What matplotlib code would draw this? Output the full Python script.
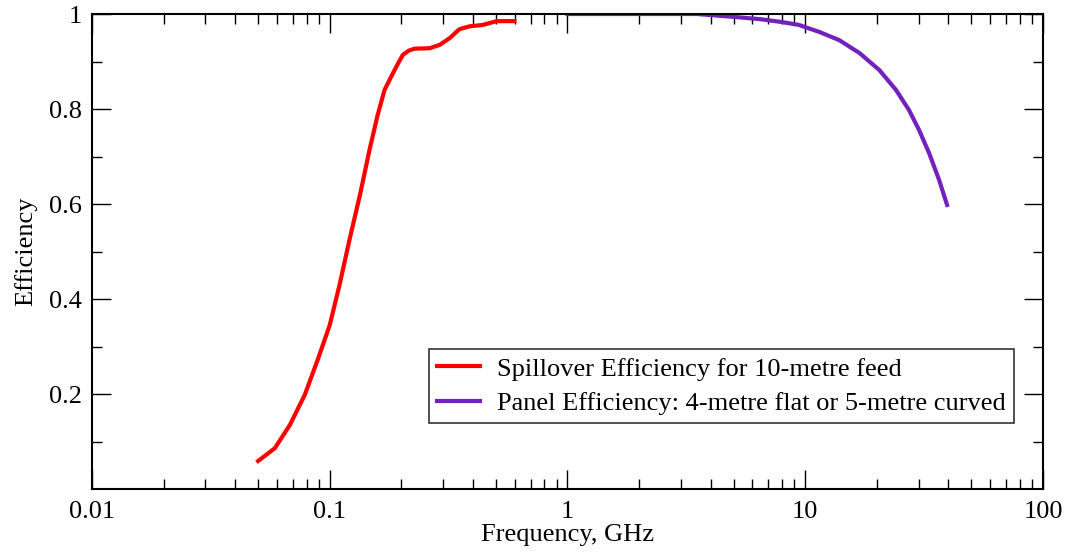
import matplotlib
matplotlib.use("Agg")
import matplotlib.pyplot as plt
from matplotlib.ticker import FixedLocator, LogLocator, NullFormatter

# spillover efficiency (red)
spill_freq = [0.05, 0.0588, 0.068, 0.0785, 0.089, 0.1, 0.11, 0.121, 0.134, 0.147,
              0.159, 0.17, 0.18, 0.191, 0.203, 0.215, 0.2275, 0.263, 0.29, 0.319,
              0.351, 0.387, 0.44, 0.504, 0.598]
spill_eff = [0.059, 0.086, 0.135, 0.198, 0.272, 0.345, 0.43, 0.524, 0.619, 0.714,
             0.787, 0.84, 0.865, 0.89, 0.914, 0.923, 0.927, 0.928, 0.935, 0.949,
             0.968, 0.974, 0.977, 0.985, 0.985]

# panel efficiency (purple)
panel_freq = [1, 2, 3.5, 5, 6.5, 8, 9.4, 11.5, 13.9, 16.9, 20.5, 24.1, 27.3,
              30.1, 33.2, 36.6, 39.5]
panel_eff = [1.0, 1.0, 1.0, 0.994, 0.989, 0.983, 0.977, 0.962, 0.945, 0.918,
             0.882, 0.84, 0.798, 0.756, 0.707, 0.65, 0.598]

xticks = [0.01, 0.1, 1, 10, 100]
xlabels = ["0.01", "0.1", "1", "10", "100"]
yticks = [0.2, 0.4, 0.6, 0.8, 1.0]
ylabels = ["0.2", "0.4", "0.6", "0.8", "1"]

plt.rcParams['font.family'] = ['Liberation Serif', 'DejaVu Serif']
plt.rcParams['font.size'] = 19

fig = plt.figure(figsize=(10.67, 5.56), dpi=100)
ax = fig.add_axes([0.0862, 0.1205, 0.8913, 0.8543])

ax.plot(spill_freq, spill_eff, color='#ff0000', lw=3,
        label='Spillover Efficiency for 10-metre feed')
ax.plot(panel_freq, panel_eff, color='#7221bc', lw=3,
        label='Panel Efficiency: 4-metre flat or 5-metre curved')

ax.set_xscale('log')
ax.set_xlim(0.01, 100)
ax.set_ylim(0, 1)
ax.set_xticks(xticks)
ax.set_xticklabels(xlabels)
ax.xaxis.set_minor_locator(LogLocator(base=10, subs=range(2, 10)))
ax.xaxis.set_minor_formatter(NullFormatter())
ax.set_yticks(yticks)
ax.set_yticklabels(ylabels)
ax.yaxis.set_minor_locator(FixedLocator([0.1, 0.3, 0.5, 0.7, 0.9]))

ax.tick_params(which='both', direction='in', top=True, right=True, width=1.0)
ax.tick_params(which='major', length=14)
ax.tick_params(which='minor', length=7)
ax.tick_params(axis='x', which='major', pad=8.5)
ax.tick_params(axis='y', which='major', pad=7)
for s in ax.spines.values():
    s.set_linewidth(1.5)

ax.set_xlabel('Frequency, GHz', labelpad=1)
ax.set_ylabel('Efficiency', labelpad=8.5)

leg = ax.legend(loc='lower right', bbox_to_anchor=(0.9695, 0.139), frameon=True,
                fancybox=False, edgecolor='black', handlelength=1.63,
                borderpad=0.3, labelspacing=0.42, handletextpad=0.67,
                borderaxespad=0)
leg.get_frame().set_linewidth(1.2)

fig.savefig('out.png', dpi=100)
